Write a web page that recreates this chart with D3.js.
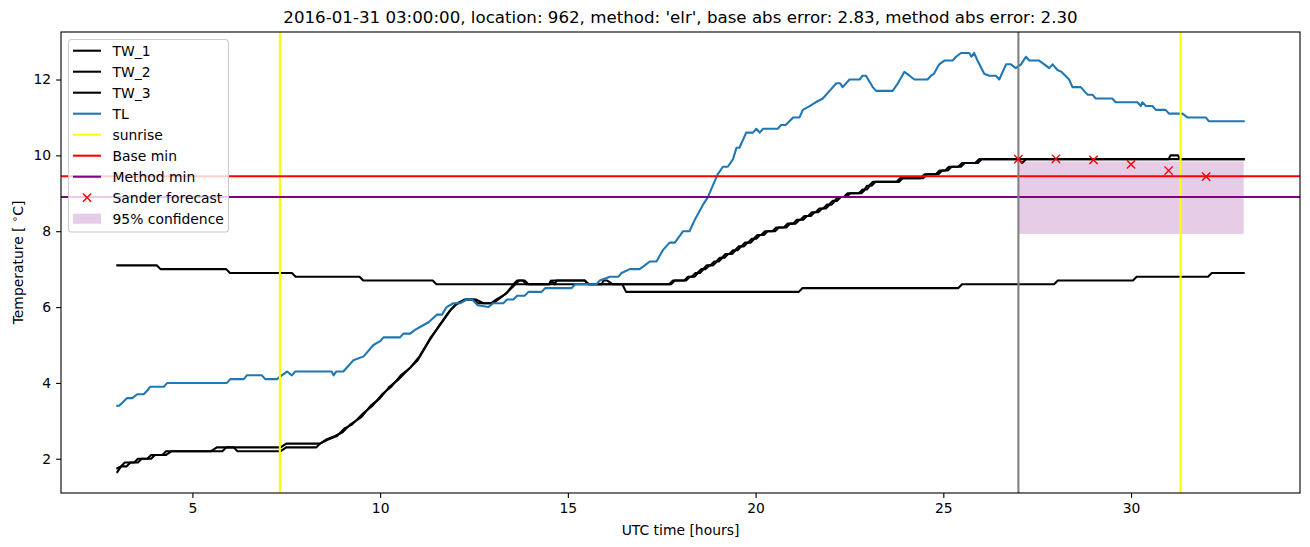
<!DOCTYPE html>
<html>
<head>
<meta charset="utf-8">
<script src="https://cdn.jsdelivr.net/npm/d3@7"></script>
<style>
  body { margin: 0; background: #fff; }
  svg { font-family: "DejaVu Sans", sans-serif; }
</style>
</head>
<body>
<svg id="chart" width="1310" height="547"></svg>
<script>
// [hour, temperature] pairs
let tw1 = [[3.0,1.65],[3.1,1.8],[3.25,1.8],[3.35,1.9],[3.55,1.9],[3.65,2.0],[3.9,2.0],[4.0,2.1],[4.3,2.1],[4.45,2.2],[5.5,2.2],[5.65,2.3],[7.35,2.3],[7.5,2.4],[8.4,2.4],[8.55,2.5],[8.8,2.6],[9.0,2.7],[9.2,2.9],[9.5,3.1],[9.75,3.4],[10.0,3.6],[10.25,3.9],[10.5,4.1],[10.75,4.35],[11.0,4.6],[11.3,5.1],[11.6,5.55],[11.85,5.9],[12.0,6.05],[12.25,6.2],[12.55,6.2],[12.75,6.1],[12.95,6.1],[13.1,6.2],[13.35,6.35],[13.55,6.6],[13.65,6.7],[13.85,6.7],[13.95,6.6],[14.5,6.6],[14.6,6.7],[15.45,6.7],[15.55,6.6],[17.75,6.6],[17.85,6.7],[18.1,6.7],[18.2,6.8],[18.3,6.8],[18.4,6.9],[18.45,6.9],[18.55,7.0],[18.6,7.0],[18.7,7.1],[18.8,7.1],[18.9,7.2],[18.95,7.2],[19.05,7.3],[19.1,7.3],[19.2,7.4],[19.3,7.4],[19.4,7.5],[19.45,7.5],[19.55,7.6],[19.62,7.6],[19.72,7.7],[19.8,7.7],[19.9,7.8],[19.95,7.8],[20.05,7.9],[20.15,7.9],[20.25,8.0],[20.45,8.0],[20.55,8.1],[20.75,8.1],[20.85,8.2],[21.0,8.2],[21.1,8.3],[21.2,8.3],[21.3,8.4],[21.4,8.4],[21.5,8.5],[21.6,8.5],[21.7,8.6],[21.8,8.6],[21.9,8.7],[21.95,8.7],[22.05,8.8],[22.1,8.8],[22.2,8.9],[22.35,8.9],[22.45,9.0],[22.75,9.0],[22.85,9.1],[22.9,9.1],[22.97,9.2],[23.02,9.2],[23.12,9.3],[23.75,9.3],[23.85,9.4],[24.4,9.4],[24.5,9.5],[24.8,9.5],[24.9,9.6],[25.05,9.6],[25.15,9.7],[25.4,9.7],[25.5,9.8],[25.85,9.8],[25.95,9.9],[27.0,9.9],[33.0,9.9]];
let tw2 = [[3.0,1.75],[3.1,1.8],[3.2,1.9],[3.45,1.9],[3.55,2.0],[3.8,2.0],[3.9,2.1],[4.2,2.1],[4.3,2.2],[5.8,2.2],[5.9,2.3],[6.1,2.3],[6.2,2.2],[7.35,2.2],[7.5,2.3],[8.3,2.3],[8.4,2.4],[8.6,2.5],[8.85,2.6],[9.05,2.8],[9.25,2.9],[9.55,3.2],[9.8,3.4],[10.05,3.7],[10.3,3.9],[10.55,4.2],[10.8,4.4],[11.05,4.7],[11.35,5.2],[11.65,5.6],[11.9,5.95],[12.05,6.1],[12.3,6.2],[12.5,6.2],[12.6,6.1],[13.0,6.1],[13.15,6.2],[13.4,6.4],[13.6,6.6],[13.7,6.7],[13.8,6.7],[13.9,6.6],[14.5,6.6],[14.55,6.7],[14.65,6.6],[14.7,6.7],[15.45,6.7],[15.55,6.6],[15.9,6.6],[15.95,6.7],[16.05,6.7],[16.2,6.6],[17.7,6.6],[17.8,6.7],[18.15,6.7],[18.25,6.8],[18.37,6.8],[18.47,6.9],[18.52,6.9],[18.62,7.0],[18.67,7.0],[18.77,7.1],[18.87,7.1],[18.97,7.2],[19.02,7.2],[19.12,7.3],[19.17,7.3],[19.27,7.4],[19.37,7.4],[19.47,7.5],[19.52,7.5],[19.62,7.6],[19.69,7.6],[19.79,7.7],[19.87,7.7],[19.97,7.8],[20.02,7.8],[20.12,7.9],[20.22,7.9],[20.32,8.0],[20.52,8.0],[20.62,8.1],[20.82,8.1],[20.92,8.2],[21.07,8.2],[21.17,8.3],[21.27,8.3],[21.37,8.4],[21.47,8.4],[21.57,8.5],[21.67,8.5],[21.77,8.6],[21.87,8.6],[21.97,8.7],[22.02,8.7],[22.12,8.8],[22.17,8.8],[22.27,8.9],[22.42,8.9],[22.52,9.0],[22.82,9.0],[22.92,9.1],[22.97,9.1],[23.04,9.2],[23.09,9.2],[23.19,9.3],[23.82,9.3],[23.92,9.4],[24.47,9.4],[24.57,9.5],[24.87,9.5],[24.97,9.6],[25.12,9.6],[25.22,9.7],[25.47,9.7],[25.57,9.8],[25.92,9.8],[26.02,9.9],[27.0,9.9],[27.1,9.8],[27.2,9.9],[31.0,9.9],[31.05,10.0],[31.25,10.0],[31.3,9.9],[33.0,9.9]];
let tw3 = [[3.0,7.1],[4.05,7.1],[4.15,7.0],[5.9,7.0],[6.0,6.9],[7.65,6.9],[7.75,6.8],[9.45,6.8],[9.55,6.7],[11.4,6.7],[11.5,6.6],[16.45,6.6],[16.55,6.4],[21.15,6.4],[21.25,6.5],[25.4,6.5],[25.5,6.6],[27.95,6.6],[28.05,6.7],[30.05,6.7],[30.15,6.8],[32.05,6.8],[32.15,6.9],[33.0,6.9]];
let tl = [[3.0,3.4],[3.05,3.4],[3.26,3.6],[3.4,3.6],[3.53,3.7],[3.7,3.7],[3.8,3.8],[3.88,3.9],[4.24,3.9],[4.33,4.0],[5.92,4.0],[6.01,4.1],[6.37,4.1],[6.45,4.2],[6.85,4.2],[6.94,4.1],[7.25,4.1],[7.38,4.2],[7.52,4.3],[7.65,4.2],[7.74,4.3],[8.71,4.3],[8.76,4.2],[8.83,4.3],[9.02,4.3],[9.2,4.5],[9.29,4.6],[9.56,4.7],[9.82,5.0],[10.0,5.1],[10.09,5.2],[10.53,5.2],[10.62,5.3],[10.8,5.3],[10.93,5.4],[11.11,5.5],[11.29,5.6],[11.51,5.8],[11.65,5.8],[11.77,6.0],[11.95,6.1],[12.13,6.1],[12.31,6.2],[12.45,6.2],[12.6,6.05],[12.88,6.0],[13.01,6.1],[13.28,6.1],[13.38,6.2],[13.55,6.2],[13.65,6.3],[13.85,6.3],[13.95,6.4],[14.3,6.4],[14.4,6.5],[15.1,6.5],[15.2,6.6],[15.76,6.6],[15.85,6.7],[16.12,6.8],[16.35,6.8],[16.43,6.9],[16.65,7.0],[16.91,7.0],[17.05,7.1],[17.18,7.2],[17.36,7.2],[17.53,7.5],[17.71,7.7],[17.85,7.7],[18.07,8.0],[18.24,8.0],[18.38,8.3],[18.6,8.7],[18.73,8.9],[18.86,9.2],[18.99,9.5],[19.13,9.7],[19.26,9.7],[19.4,9.9],[19.49,10.2],[19.57,10.2],[19.75,10.6],[19.93,10.6],[20.02,10.7],[20.11,10.6],[20.2,10.7],[20.59,10.7],[20.68,10.8],[20.8,10.8],[21.0,11.0],[21.17,11.0],[21.26,11.2],[21.44,11.3],[21.6,11.4],[21.79,11.5],[21.97,11.7],[22.15,11.9],[22.25,11.9],[22.32,11.8],[22.5,12.0],[22.77,12.0],[22.85,12.1],[22.94,12.1],[23.12,11.8],[23.21,11.7],[23.65,11.7],[23.79,11.9],[23.96,12.2],[24.1,12.1],[24.23,12.0],[24.58,12.0],[24.67,12.1],[24.75,12.15],[24.89,12.4],[25.03,12.5],[25.25,12.5],[25.34,12.6],[25.47,12.7],[25.69,12.7],[25.75,12.6],[25.82,12.7],[25.91,12.5],[26.09,12.15],[26.22,12.1],[26.4,12.1],[26.49,12.0],[26.67,12.4],[26.8,12.4],[26.93,12.3],[27.07,12.4],[27.2,12.6],[27.29,12.5],[27.55,12.5],[27.69,12.4],[27.82,12.3],[27.91,12.4],[28.04,12.25],[28.15,12.2],[28.35,12.0],[28.44,11.8],[28.66,11.8],[28.84,11.6],[28.97,11.6],[29.06,11.5],[29.5,11.5],[29.59,11.4],[30.17,11.4],[30.26,11.3],[30.3,11.4],[30.4,11.3],[30.57,11.3],[30.66,11.2],[30.92,11.2],[31.01,11.1],[31.37,11.1],[31.5,11.0],[31.99,11.0],[32.07,10.9],[33.0,10.9]];

let sunrise = [7.33, 31.32];
let nowHour = 27.0;
let baseMin = 9.45;
let methodMin = 8.9;
let forecastHours = [27, 28, 29, 30, 31, 32];
let forecastValues = [9.9, 9.91, 9.88, 9.76, 9.6, 9.44];
let confHours = [27, 33];
let confLow = 7.93;
let confHigh = 9.84;
let xTicks = [5, 10, 15, 20, 25, 30];
let yTicks = [2, 4, 6, 8, 10, 12];
let title = "2016-01-31 03:00:00, location: 962, method: 'elr', base abs error: 2.83, method abs error: 2.30";
let legendItems = [
    {label: "TW_1", kind: "line", color: "#000"},
    {label: "TW_2", kind: "line", color: "#000"},
    {label: "TW_3", kind: "line", color: "#000"},
    {label: "TL", kind: "line", color: "#1f77b4"},
    {label: "sunrise", kind: "line", color: "yellow"},
    {label: "Base min", kind: "line", color: "red"},
    {label: "Method min", kind: "line", color: "purple"},
    {label: "Sander forecast", kind: "x", color: "red"},
    {label: "95% confidence", kind: "patch", color: "purple"}
];

function main() {
    var svg = d3.select("#chart");
    var left = 61, right = 1300, top = 32, bottom = 493;

    // matplotlib style 5% margins
    var all = tw1.concat(tw2, tw3, tl);
    var xExt = d3.extent(all, d => d[0]);
    var yExt = d3.extent(all, d => d[1]);
    var xPad = (xExt[1] - xExt[0]) * 0.05, yPad = (yExt[1] - yExt[0]) * 0.05;

    var x = d3.scaleLinear().domain([xExt[0] - xPad, xExt[1] + xPad]).range([left, right]);
    var y = d3.scaleLinear().domain([yExt[0] - yPad, yExt[1] + yPad]).range([bottom, top]);

    var defs = svg.append("defs");
    defs.append("clipPath").attr("id", "clip")
        .append("rect").attr("x", left).attr("y", top).attr("width", right - left).attr("height", bottom - top);

    var plot = svg.append("g").attr("clip-path", "url(#clip)");

    // confidence band (collections sit under the lines)
    plot.append("rect")
        .attr("x", x(confHours[0]))
        .attr("y", y(confHigh))
        .attr("width", x(confHours[1]) - x(confHours[0]))
        .attr("height", y(confLow) - y(confHigh))
        .attr("fill", "purple")
        .attr("fill-opacity", 0.2);

    var line = d3.line().x(d => x(d[0])).y(d => y(d[1]));
    var series = [[tw1, "#000"], [tw2, "#000"], [tw3, "#000"], [tl, "#1f77b4"]];
    series.forEach(function(s) {
        plot.append("path")
            .datum(s[0])
            .attr("d", line)
            .attr("fill", "none")
            .attr("stroke", s[1])
            .attr("stroke-width", 2.08)
            .attr("stroke-linejoin", "round")
            .attr("stroke-linecap", "square");
    });

    sunrise.forEach(function(h) {
        plot.append("line")
            .attr("x1", x(h)).attr("x2", x(h))
            .attr("y1", top).attr("y2", bottom)
            .attr("stroke", "yellow").attr("stroke-width", 2.08);
    });
    [[baseMin, "red"], [methodMin, "purple"]].forEach(function(h) {
        plot.append("line")
            .attr("x1", left).attr("x2", right)
            .attr("y1", y(h[0])).attr("y2", y(h[0]))
            .attr("stroke", h[1]).attr("stroke-width", 2.08);
    });
    plot.append("line")
        .attr("x1", x(nowHour)).attr("x2", x(nowHour))
        .attr("y1", top).attr("y2", bottom)
        .attr("stroke", "gray").attr("stroke-width", 2.08);

    var m = 4.15;
    forecastHours.forEach(function(h, i) {
        var cx = x(h), cy = y(forecastValues[i]);
        plot.append("path")
            .attr("d", "M" + (cx - m) + "," + (cy - m) + "L" + (cx + m) + "," + (cy + m) +
                       "M" + (cx - m) + "," + (cy + m) + "L" + (cx + m) + "," + (cy - m))
            .attr("stroke", "red").attr("stroke-width", 1.4).attr("fill", "none");
    });

    // axes
    var xAxis = svg.append("g")
        .attr("transform", "translate(0," + bottom + ")")
        .call(d3.axisBottom(x).tickValues(xTicks).tickFormat(d3.format("d")).tickSize(4.9).tickPadding(4.9));
    var yAxis = svg.append("g")
        .attr("transform", "translate(" + left + ",0)")
        .call(d3.axisLeft(y).tickValues(yTicks).tickFormat(d3.format("d")).tickSize(4.9).tickPadding(4.9));
    [xAxis, yAxis].forEach(function(a) {
        a.select(".domain").remove();
        a.selectAll(".tick line").attr("stroke", "#000").attr("stroke-width", 1.1);
        a.selectAll(".tick text").attr("fill", "#000").style("font-size", "13.9px")
            .style("font-family", "DejaVu Sans");
    });

    svg.append("rect")
        .attr("x", left).attr("y", top)
        .attr("width", right - left).attr("height", bottom - top)
        .attr("fill", "none").attr("stroke", "#000").attr("stroke-width", 1.1);

    // labels
    svg.append("text")
        .attr("x", (left + right) / 2).attr("y", 23)
        .attr("text-anchor", "middle")
        .style("font-size", "16.67px")
        .text(title);
    svg.append("text")
        .attr("x", (left + right) / 2).attr("y", 535)
        .attr("text-anchor", "middle")
        .style("font-size", "13.9px")
        .text("UTC time [hours]");
    var yl = svg.append("text")
        .attr("transform", "translate(23," + ((top + bottom) / 2) + ") rotate(-90)")
        .attr("text-anchor", "middle")
        .style("font-size", "13.9px");
    yl.append("tspan").text("Temperature [ ");
    yl.append("tspan").attr("dy", -5).style("font-size", "10px").text("\u2218");
    yl.append("tspan").attr("dy", 5).text("C]");

    // legend
    var lg = svg.append("g");
    lg.append("rect")
        .attr("x", 68.5).attr("y", 39.5)
        .attr("width", 160).attr("height", 192.5)
        .attr("rx", 3)
        .attr("fill", "#fff").attr("fill-opacity", 0.8)
        .attr("stroke", "#ccc").attr("stroke-width", 1.1);
    legendItems.forEach(function(it, i) {
        var cy = 50.7 + i * 21;
        if (it.kind == "line") {
            lg.append("line").attr("x1", 73).attr("x2", 101).attr("y1", cy).attr("y2", cy)
                .attr("stroke", it.color).attr("stroke-width", 2.08);
        } else if (it.kind == "x") {
            lg.append("path")
                .attr("d", "M" + (87 - m) + "," + (cy - m) + "L" + (87 + m) + "," + (cy + m) +
                           "M" + (87 - m) + "," + (cy + m) + "L" + (87 + m) + "," + (cy - m))
                .attr("stroke", it.color).attr("stroke-width", 1.4);
        } else {
            lg.append("rect").attr("x", 73).attr("y", cy - 5).attr("width", 28).attr("height", 10)
                .attr("fill", it.color).attr("fill-opacity", 0.2);
        }
        lg.append("text").attr("x", 112.5).attr("y", cy + 5)
            .style("font-size", "13.9px").text(it.label);
    });
}

main();
</script>
</body>
</html>
